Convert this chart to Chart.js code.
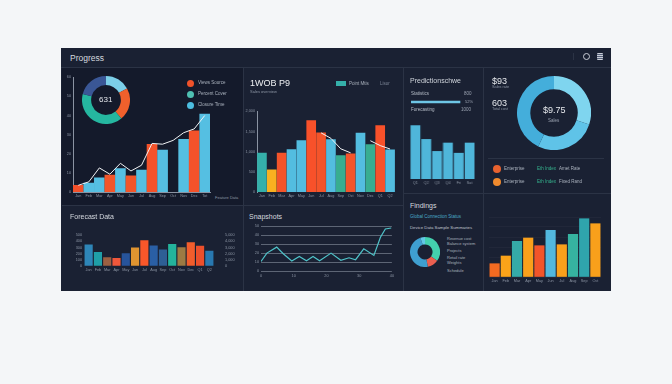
<!DOCTYPE html>
<html>
<head>
<meta charset="utf-8">
<script src="https://cdn.jsdelivr.net/npm/chart.js@4"></script>
<style>
html, body { margin: 0; padding: 0; background: #f4f6f8; width: 672px; height: 384px; overflow: hidden; }
#board { position: absolute; left: 61px; top: 48px; width: 550px; height: 243px; background: #1a2133; }
#shade { position: absolute; left: 62px; top: 68px; width: 181px; height: 137px; background: #141a2b; }
canvas, .txt, .rule, .icon { position: absolute; }
.txt { white-space: nowrap; transform: translateY(-50%); font-family: "Liberation Sans", sans-serif; line-height: 1; }
.rule { background: #2b3345; }
</style>
</head>
<body>
<div id="board"></div>
<div id="shade"></div>
<script>
// top left chart
const salesLabels = ['Jan', 'Feb', 'Mar', 'Apr', 'May', 'Jun', 'Jul', 'Aug', 'Sep', 'Oct', 'Nov', 'Dec', 'Tot'];
const salesBars = [3.5, 4.7, 7.4, 8.8, 12.3, 8.4, 11.4, 24.9, 21.9, null, 27.5, 32, 40.7];
const salesLine = [3.5, 5.3, 12.6, 9.3, 15, 11, 14, 25.4, 25, 27, 31, 33, 40];
const salesColors = ['#f2502a', '#55bfe2', '#55bfe2', '#f2562a', '#55bfe2', '#f2562a', '#55bfe2', '#f4522a', '#55bfe2', '#55bfe2', '#55bfe2', '#f4522a', '#55bfe2'];
const mixValues = [17, 22, 40, 21];
const mixColors = ['#7ccfe8', '#f0602c', '#25b7a0', '#3a5796'];

// top middle chart
const weekLabels = ['Jan', 'Feb', 'Mar', 'Apr', 'May', 'Jun', 'Jul', 'Aug', 'Sep', 'Oct', 'Nov', 'Dec', 'Q1', 'Q2'];
const weekBars = [963, 551, 963, 1053, 1276, 1770, 1465, 1300, 905, 947, 1457, 1177, 1646, 1045];
const weekLine = [null, null, null, null, null, null, 1465, 1330, 1070, 970, null, 1270, 1150, 1065];
const weekColors = ['#35b0aa', '#f9b020', '#f4542a', '#53bde0', '#53bde0', '#f8512a', '#f4542a', '#53bde0', '#38ad90', '#f4542a', '#53bde0', '#38ad90', '#f8512a', '#53bde0'];

// top third panel
const predictLabels = ['Q1', 'Q2', 'Q3', 'Q4', 'Fri', 'Sat'];
const predictBars = [89, 66, 46, 60, 43, 60];
const progressValue = [79];

// top right donut
const shareValues = [30, 27, 43];
const shareColors = ['#7fd5ef', '#5fc3e8', '#44aedb'];

// bottom left chart
const forecastLabels = ['Jan', 'Feb', 'Mar', 'Apr', 'May', 'Jun', 'Jul', 'Aug', 'Sep', 'Oct', 'Nov', 'Dec', 'Q1', 'Q2'];
const forecastBars = [345, 220, 133, 121, 200, 295, 413, 326, 261, 352, 299, 379, 322, 242];
const forecastColors = ['#2e86b8', '#1f9fa8', '#9c6042', '#f0573b', '#27549b', '#df9430', '#f9572a', '#2a5fa5', '#2e5f95', '#24b49c', '#9d7a43', '#f25d2c', '#ec4f2b', '#2878b0'];

// bottom middle line
const trendX = [0, 1.8, 4.8, 6.8, 9.4, 11.7, 13.9, 15.9, 17.9, 21.4, 24.4, 26.9, 28.9, 31.4, 34.5, 36.5, 38, 39.8];
const trendY = [10.7, 20, 26.7, 19.3, 11.1, 16.3, 11.5, 16.3, 11.5, 20, 11.9, 14.8, 12.6, 24.8, 17.4, 37.8, 47, 48.1];

// bottom third donut
const deviceValues = [35, 12, 48, 5];
const deviceColors = ['#43d0ae', '#ea5f50', '#3f9fd0', '#62c8e6'];

// bottom right chart
const yearLabels = ['Jan', 'Feb', 'Mar', 'Apr', 'May', 'Jun', 'Jul', 'Aug', 'Sep', 'Oct'];
const yearBars = [13.3, 21, 35.7, 39, 31.3, 46.7, 32.3, 42.7, 58.3, 53.3];
const yearColors = ['#f26a21', '#fba319', '#35aaa8', '#f9a01b', '#f2552a', '#52b8de', '#f9a01b', '#36b3a0', '#2fa5ad', '#f9a01b'];

Chart.defaults.font.family = '"Liberation Sans", sans-serif';
Chart.defaults.animation = false;
Chart.defaults.plugins.legend.display = false;
Chart.defaults.plugins.tooltip.enabled = false;

const tickGrey = '#8a93a2';
const axisGrey = '#8a93a2';

function addTxt(text, x, y, size, color, weight) {
    const el = document.createElement('div');
    el.className = 'txt';
    el.textContent = text;
    el.style.left = x + 'px';
    el.style.top = y + 'px';
    el.style.fontSize = size + 'px';
    el.style.color = color || '#c5ccd6';
    if (weight) el.style.fontWeight = weight;
    document.body.appendChild(el);
    return el;
}

function addRule(x, y, w, h) {
    const el = document.createElement('div');
    el.className = 'rule';
    el.style.cssText = `left:${x}px;top:${y}px;width:${w}px;height:${h}px;`;
    document.body.appendChild(el);
}

// plot is the wanted chart area in page pixels, m the room kept around it for axes
function plotChart(plot, m, config, scaleFit) {
    const c = document.createElement('canvas');
    const w = plot.r - plot.l + m.left + m.right;
    const h = plot.b - plot.t + m.top + m.bottom;
    c.width = w;
    c.height = h;
    c.style.cssText = `left:${plot.l - m.left}px;top:${plot.t - m.top}px;width:${w}px;height:${h}px;`;
    document.body.appendChild(c);
    config.options = config.options || {};
    config.options.responsive = false;
    config.options.devicePixelRatio = 1;
    config.options.layout = { padding: { top: m.top, right: scaleFit === 'right' ? 0 : m.right, left: 0, bottom: 0 } };
    const scales = config.options.scales;
    Object.values(scales).forEach(s => { s.grid = { ...s.grid, drawTicks: false }; });
    scales.x.afterFit = s => { s.height = m.bottom; };
    scales.y.afterFit = s => { s.width = m.left; };
    if (scales.y2) scales.y2.afterFit = s => { s.width = m.right; };
    return new Chart(c.getContext('2d'), config);
}

function donut(cx, cy, r, cutout, values, colors, rotation) {
    const c = document.createElement('canvas');
    c.width = 2 * r;
    c.height = 2 * r;
    c.style.cssText = `left:${cx - r}px;top:${cy - r}px;width:${2 * r}px;height:${2 * r}px;`;
    document.body.appendChild(c);
    return new Chart(c.getContext('2d'), {
        type: 'doughnut',
        data: { datasets: [{ data: values, backgroundColor: colors, borderWidth: 0 }] },
        options: { responsive: false, devicePixelRatio: 1, cutout: cutout, rotation: rotation || 0 }
    });
}

function xTicks() {
    return { color: tickGrey, font: { size: 3.8 }, padding: 2, maxRotation: 0, minRotation: 0, autoSkip: false };
}

function yTicks(step, pad) {
    return { stepSize: step, color: tickGrey, font: { size: 3.8 }, padding: pad || 2, autoSkip: false };
}

const hiddenAxis = { grid: { display: false }, border: { display: false }, ticks: { display: false } };

// panel frame lines
addRule(61, 67, 550, 1);
addRule(243, 67, 1, 224);
addRule(403, 67, 1, 224);
addRule(483, 67, 1, 224);
addRule(62, 205, 341, 1);
addRule(403, 193, 208, 1);
addRule(488, 158, 116, 1);

// header
addTxt('Progress', 70, 58, 8.5, '#d5d9df');
addRule(573, 53, 1, 7);
const ring = document.createElement('div');
ring.className = 'icon';
ring.style.cssText = 'left:583px;top:53px;width:5px;height:5px;border:1px solid #c9ced6;border-radius:50%;';
document.body.appendChild(ring);
const stack = document.createElement('div');
stack.className = 'icon';
stack.style.cssText = 'left:597px;top:53px;width:6px;height:7px;background:repeating-linear-gradient(#c9ced6 0 1px,#56607a 1px 2px);border-radius:1px;';
document.body.appendChild(stack);

// top left
plotChart({ l: 73, r: 210, t: 77, b: 192 }, { left: 10, right: 4, top: 4, bottom: 9 }, {
    type: 'bar',
    data: {
        labels: salesLabels,
        datasets: [
            { type: 'line', data: salesLine, borderColor: '#f1f3f5', borderWidth: 1, pointRadius: 0, tension: 0, order: 0 },
            { data: salesBars, backgroundColor: salesColors, barThickness: 10, order: 1 }
        ]
    },
    options: {
        scales: {
            x: { grid: { display: false }, border: { color: axisGrey }, ticks: xTicks() },
            y: { min: 0, max: 60, grid: { display: false }, border: { color: axisGrey }, ticks: yTicks(10) }
        }
    }
});
donut(106, 100, 24, '62%', mixValues, mixColors);
addTxt('631', 99, 100, 8, '#e4e7ec');
[[83, '#f0522a', 'Views Source'], [94, '#4fc0b2', 'Percent Cover'], [105, '#4cbde0', 'Closure Time']].forEach(r => {
    const d = document.createElement('div');
    d.className = 'icon';
    d.style.cssText = `left:187px;top:${r[0] - 3.5}px;width:7px;height:7px;border-radius:50%;background:${r[1]};`;
    document.body.appendChild(d);
    addTxt(r[2], 198, r[0], 4.5, '#aab2be');
});
addTxt('Feature Data', 215, 198, 4, '#8d96a5');

// top middle
plotChart({ l: 257, r: 395, t: 111, b: 192 }, { left: 14, right: 4, top: 4, bottom: 9 }, {
    type: 'bar',
    data: {
        labels: weekLabels,
        datasets: [
            { type: 'line', data: weekLine, borderColor: '#f1f3f5', borderWidth: 1, pointRadius: 0, tension: 0, order: 0 },
            { data: weekBars, backgroundColor: weekColors, barThickness: 9, order: 1 }
        ]
    },
    options: {
        scales: {
            x: { grid: { display: false }, border: { display: false }, ticks: xTicks() },
            y: { min: 0, max: 2000, grid: { display: false }, border: { color: axisGrey }, ticks: yTicks(500) }
        }
    }
});
addTxt('1WOB P9', 250, 83, 9, '#eef0f3');
addTxt('Sales overview', 250, 92, 4, '#8d96a5');
const chip = document.createElement('div');
chip.className = 'icon';
chip.style.cssText = 'left:336px;top:81px;width:10px;height:5px;background:#35b0aa;';
document.body.appendChild(chip);
addTxt('Point Mtis', 349, 83.5, 4.5, '#aab2be');
addTxt('Lisor', 380, 83.5, 4.5, '#7d8697');

// top third
addTxt('Predictionschwe', 410, 80, 7, '#cfd4db');
addTxt('Statistics', 411, 94, 4.5, '#b5bcc7');
addTxt('800', 464, 94, 4.5, '#9aa2b0');
addTxt('52%', 465, 102, 4, '#9aa2b0');
addTxt('Forecasting', 411, 110, 4.5, '#b5bcc7');
addTxt('1000', 461, 110, 4.5, '#9aa2b0');
plotChart({ l: 411, r: 473, t: 100, b: 104 }, { left: 0, right: 0, top: 0, bottom: 0 }, {
    type: 'bar',
    data: { labels: ['Done'], datasets: [{ data: progressValue, backgroundColor: '#6ec6e6', barThickness: 2 }] },
    options: {
        indexAxis: 'y',
        scales: { x: { min: 0, max: 100, ...hiddenAxis }, y: { ...hiddenAxis } }
    }
});
plotChart({ l: 410, r: 474.5, t: 119, b: 179 }, { left: 0, right: 2, top: 2, bottom: 9 }, {
    type: 'bar',
    data: { labels: predictLabels, datasets: [{ data: predictBars, backgroundColor: '#4fb6da', barThickness: 9 }] },
    options: {
        scales: {
            x: { grid: { display: false }, border: { display: false }, ticks: xTicks() },
            y: { min: 0, max: 100, ...hiddenAxis }
        }
    }
});

// top right
addTxt('$93', 492, 81, 9, '#e6e9ed');
addTxt('Sales rate', 492, 88, 3.8, '#8d96a5');
addTxt('603', 492, 103, 9, '#e6e9ed');
addTxt('Total cost', 492, 110, 3.8, '#8d96a5');
donut(554, 113, 37, '64%', shareValues, shareColors);
addTxt('$9.75', 543, 110, 9, '#e6e9ed');
addTxt('Sales', 548, 121, 4.5, '#9aa2b0');
[[169, '#e8622f', 'Enterprise', 'Eth Index', 'Amet Rate'], [182, '#f08a2e', 'Enterprise', 'Eth Index', 'Fixed Rand']].forEach(r => {
    const d = document.createElement('div');
    d.className = 'icon';
    d.style.cssText = `left:493px;top:${r[0] - 4}px;width:8px;height:8px;border-radius:50%;background:${r[1]};`;
    document.body.appendChild(d);
    addTxt(r[2], 504, r[0], 4.5, '#aab2be');
    addTxt(r[3], 537, r[0], 4.5, '#35b58f');
    addTxt(r[4], 559, r[0], 4.5, '#aab2be');
});

// bottom left
plotChart({ l: 84, r: 214, t: 226, b: 270 }, { left: 14, right: 22, top: 4, bottom: 9 }, {
    type: 'bar',
    data: { labels: forecastLabels, datasets: [{ data: forecastBars, backgroundColor: forecastColors, barThickness: 7.5 }] },
    options: {
        scales: {
            x: { grid: { display: false }, border: { display: false }, ticks: xTicks() },
            y: { min: 0, max: 500, grid: { display: false }, border: { display: false }, ticks: yTicks(100) },
            y2: { position: 'right', min: 0, max: 5000, grid: { display: false }, border: { display: false }, ticks: yTicks(1000, 11) }
        }
    }
}, 'right');
addTxt('Forecast Data', 70, 216, 7, '#d5d9df');

// bottom middle
plotChart({ l: 261, r: 393, t: 226, b: 271 }, { left: 12, right: 4, top: 4, bottom: 10 }, {
    type: 'line',
    data: {
        datasets: [{
            data: trendX.map((x, i) => ({ x: x, y: trendY[i] })),
            borderColor: '#4fc3c9', borderWidth: 1.2, pointRadius: 0, tension: 0
        }]
    },
    options: {
        scales: {
            x: { type: 'linear', min: 0, max: 40, grid: { display: false }, border: { display: false }, ticks: { ...xTicks(), stepSize: 10, padding: 3 } },
            y: { min: 0, max: 50, grid: { color: '#6f7787', lineWidth: 0.8 }, border: { display: false }, ticks: yTicks(10) }
        }
    }
});
addTxt('Snapshots', 249, 216, 7, '#d5d9df');

// bottom third
addTxt('Findings', 410, 205, 7, '#d5d9df');
addTxt('Global Connection Status', 410, 217, 4.5, '#4aa9c9');
addTxt('Device Data Sample Summaries', 410, 228, 4.3, '#c0c6d0');
donut(425, 252, 15, '50%', deviceValues, deviceColors);
[[239, 'Revenue cost'], [244, 'Balance system'], [251, 'Projects'], [258, 'Retail rate'], [263, 'Weights'], [271, 'Schedule']].forEach(r => {
    addTxt(r[1], 447, r[0], 4, '#aab2be');
});

// bottom right
plotChart({ l: 489, r: 601, t: 216.5, b: 276.5 }, { left: 0, right: 4, top: 2, bottom: 9 }, {
    type: 'bar',
    data: { labels: yearLabels, datasets: [{ data: yearBars, backgroundColor: yearColors, barThickness: 9.5 }] },
    options: {
        scales: {
            x: { grid: { display: false }, border: { display: false }, ticks: xTicks() },
            y: { min: 0, max: 60, grid: { color: 'rgba(255,255,255,0.03)' }, border: { display: false }, ticks: { display: false, stepSize: 10 } }
        }
    }
});
</script>
</body>
</html>
